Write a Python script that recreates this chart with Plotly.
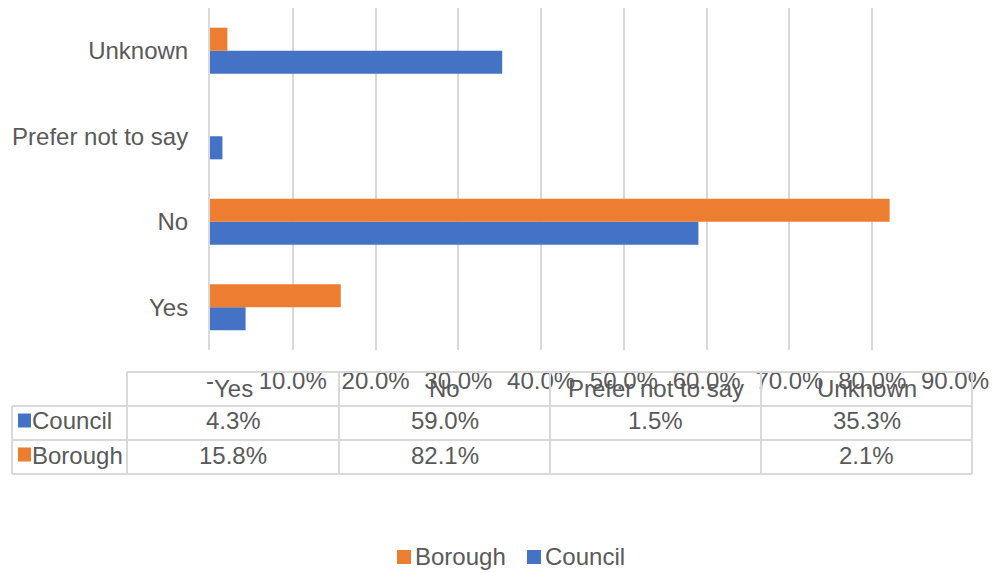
import plotly.graph_objects as go

categories = ["Yes", "No", "Prefer not to say", "Unknown"]
council = [4.3, 59.0, 1.5, 35.3]
borough = [15.8, 82.1, None, 2.1]
tick_vals = [0, 10, 20, 30, 40, 50, 60, 70, 80, 90]
tick_text = ["-", "10.0%", "20.0%", "30.0%", "40.0%", "50.0%", "60.0%", "70.0%", "80.0%", "90.0%"]
legend_order = ["Borough", "Council"]

OFF = 8  # page body margin
W, H = 999 - OFF, 572 - OFF
PLOT_L, PLOT_R, PLOT_T, PLOT_B = 210, 955, 8, 350  # reference pixels
L = PLOT_L - OFF
R = W - (PLOT_R - OFF)
T = PLOT_T - OFF
B = H - (PLOT_B - OFF)
PW = PLOT_R - PLOT_L
PH = PLOT_B - PLOT_T
GRAY = "#595959"
GRID = "#d9d9d9"
BLUE = "#4472C4"
ORANGE = "#ED7D31"
FONT = "Liberation Sans, Arial, sans-serif"
FS = 24
COLORS = {"Council": BLUE, "Borough": ORANGE}


def px(x):
    return (x - PLOT_L) / PW


def py(y):
    return (PLOT_B - y) / PH


fig = go.Figure()
fig.add_trace(go.Bar(y=categories, x=council, orientation="h", name="Council",
                     marker=dict(color=BLUE, line=dict(width=0))))
fig.add_trace(go.Bar(y=categories, x=borough, orientation="h", name="Borough",
                     marker=dict(color=ORANGE, line=dict(width=0))))

shapes = []
annotations = []
line = dict(color=GRID, width=2)

# table geometry (reference pixels)
col_edges = [127, 339, 550, 761, 972]
row_edges = [372, 406, 440, 474]
table_left = 12

shapes.append(dict(type="line", xref="paper", yref="paper", x0=px(col_edges[0]), x1=px(col_edges[-1]),
                   y0=py(row_edges[0]), y1=py(row_edges[0]), line=line))
for ry in row_edges[1:]:
    shapes.append(dict(type="line", xref="paper", yref="paper", x0=px(table_left), x1=px(col_edges[-1]),
                       y0=py(ry), y1=py(ry), line=line))
for cx in col_edges:
    shapes.append(dict(type="line", xref="paper", yref="paper", x0=px(cx), x1=px(cx),
                       y0=py(row_edges[0]), y1=py(row_edges[-1]), line=line))
shapes.append(dict(type="line", xref="paper", yref="paper", x0=px(table_left), x1=px(table_left),
                   y0=py(row_edges[1]), y1=py(row_edges[-1]), line=line))

for i, cat in enumerate(categories):
    cxm = (col_edges[i] + col_edges[i + 1]) / 2
    annotations.append(dict(x=px(cxm), y=py((row_edges[0] + row_edges[1]) / 2 - 1), xref="paper", yref="paper",
                            text=cat, showarrow=False, font=dict(size=FS, color=GRAY, family=FONT),
                            xanchor="center", yanchor="middle"))

rows = [("Council", council), ("Borough", borough)]
for r, (name, vals) in enumerate(rows):
    ymid = (row_edges[r + 1] + row_edges[r + 2]) / 2
    shapes.append(dict(type="rect", xref="paper", yref="paper", x0=px(18), x1=px(31),
                       y0=py(ymid - 9.5), y1=py(ymid + 4.5), fillcolor=COLORS[name], line=dict(width=0)))
    annotations.append(dict(x=px(30), y=py(ymid - 2), xref="paper", yref="paper", text=name,
                            showarrow=False, font=dict(size=FS, color=GRAY, family=FONT),
                            xanchor="left", yanchor="middle"))
    for i, v in enumerate(vals):
        if v is None:
            continue
        cxm = (col_edges[i] + col_edges[i + 1]) / 2
        annotations.append(dict(x=px(cxm), y=py(ymid - 2), xref="paper", yref="paper",
                                text=f"{v:.1f}%", showarrow=False,
                                font=dict(size=FS, color=GRAY, family=FONT),
                                xanchor="center", yanchor="middle"))

# manual legend (reference pixels)
legend_x = [397, 527]
legend_y = 557
for name, lx in zip(legend_order, legend_x):
    shapes.append(dict(type="rect", xref="paper", yref="paper", x0=px(lx), x1=px(lx + 14),
                       y0=py(legend_y - 7), y1=py(legend_y + 7), fillcolor=COLORS[name], line=dict(width=0)))
    annotations.append(dict(x=px(lx + 16), y=py(legend_y - 1), xref="paper", yref="paper", text=name,
                            showarrow=False, font=dict(size=FS, color=GRAY, family=FONT),
                            xanchor="left", yanchor="middle"))

fig.update_layout(
    width=W, height=H,
    margin=dict(l=L, r=R, t=T, b=B, autoexpand=False),
    paper_bgcolor="white", plot_bgcolor="white",
    barmode="group", bargap=0.46, bargroupgap=0,
    font=dict(family=FONT, size=FS, color=GRAY),
    xaxis=dict(range=[0, 90], tickvals=tick_vals, ticktext=tick_text, showgrid=True,
               gridcolor=GRID, gridwidth=2, zeroline=False, showline=False, ticks="",
               tickfont=dict(size=FS, color=GRAY), ticklabelstandoff=14, fixedrange=True),
    yaxis=dict(categoryorder="array", categoryarray=categories, showgrid=False, zeroline=False,
               showline=True, linecolor=GRID, linewidth=2, ticks="",
               tickfont=dict(size=FS, color=GRAY), ticklabelstandoff=15),
    showlegend=False,
    shapes=shapes, annotations=annotations,
)

fig.write_html("out.html")
